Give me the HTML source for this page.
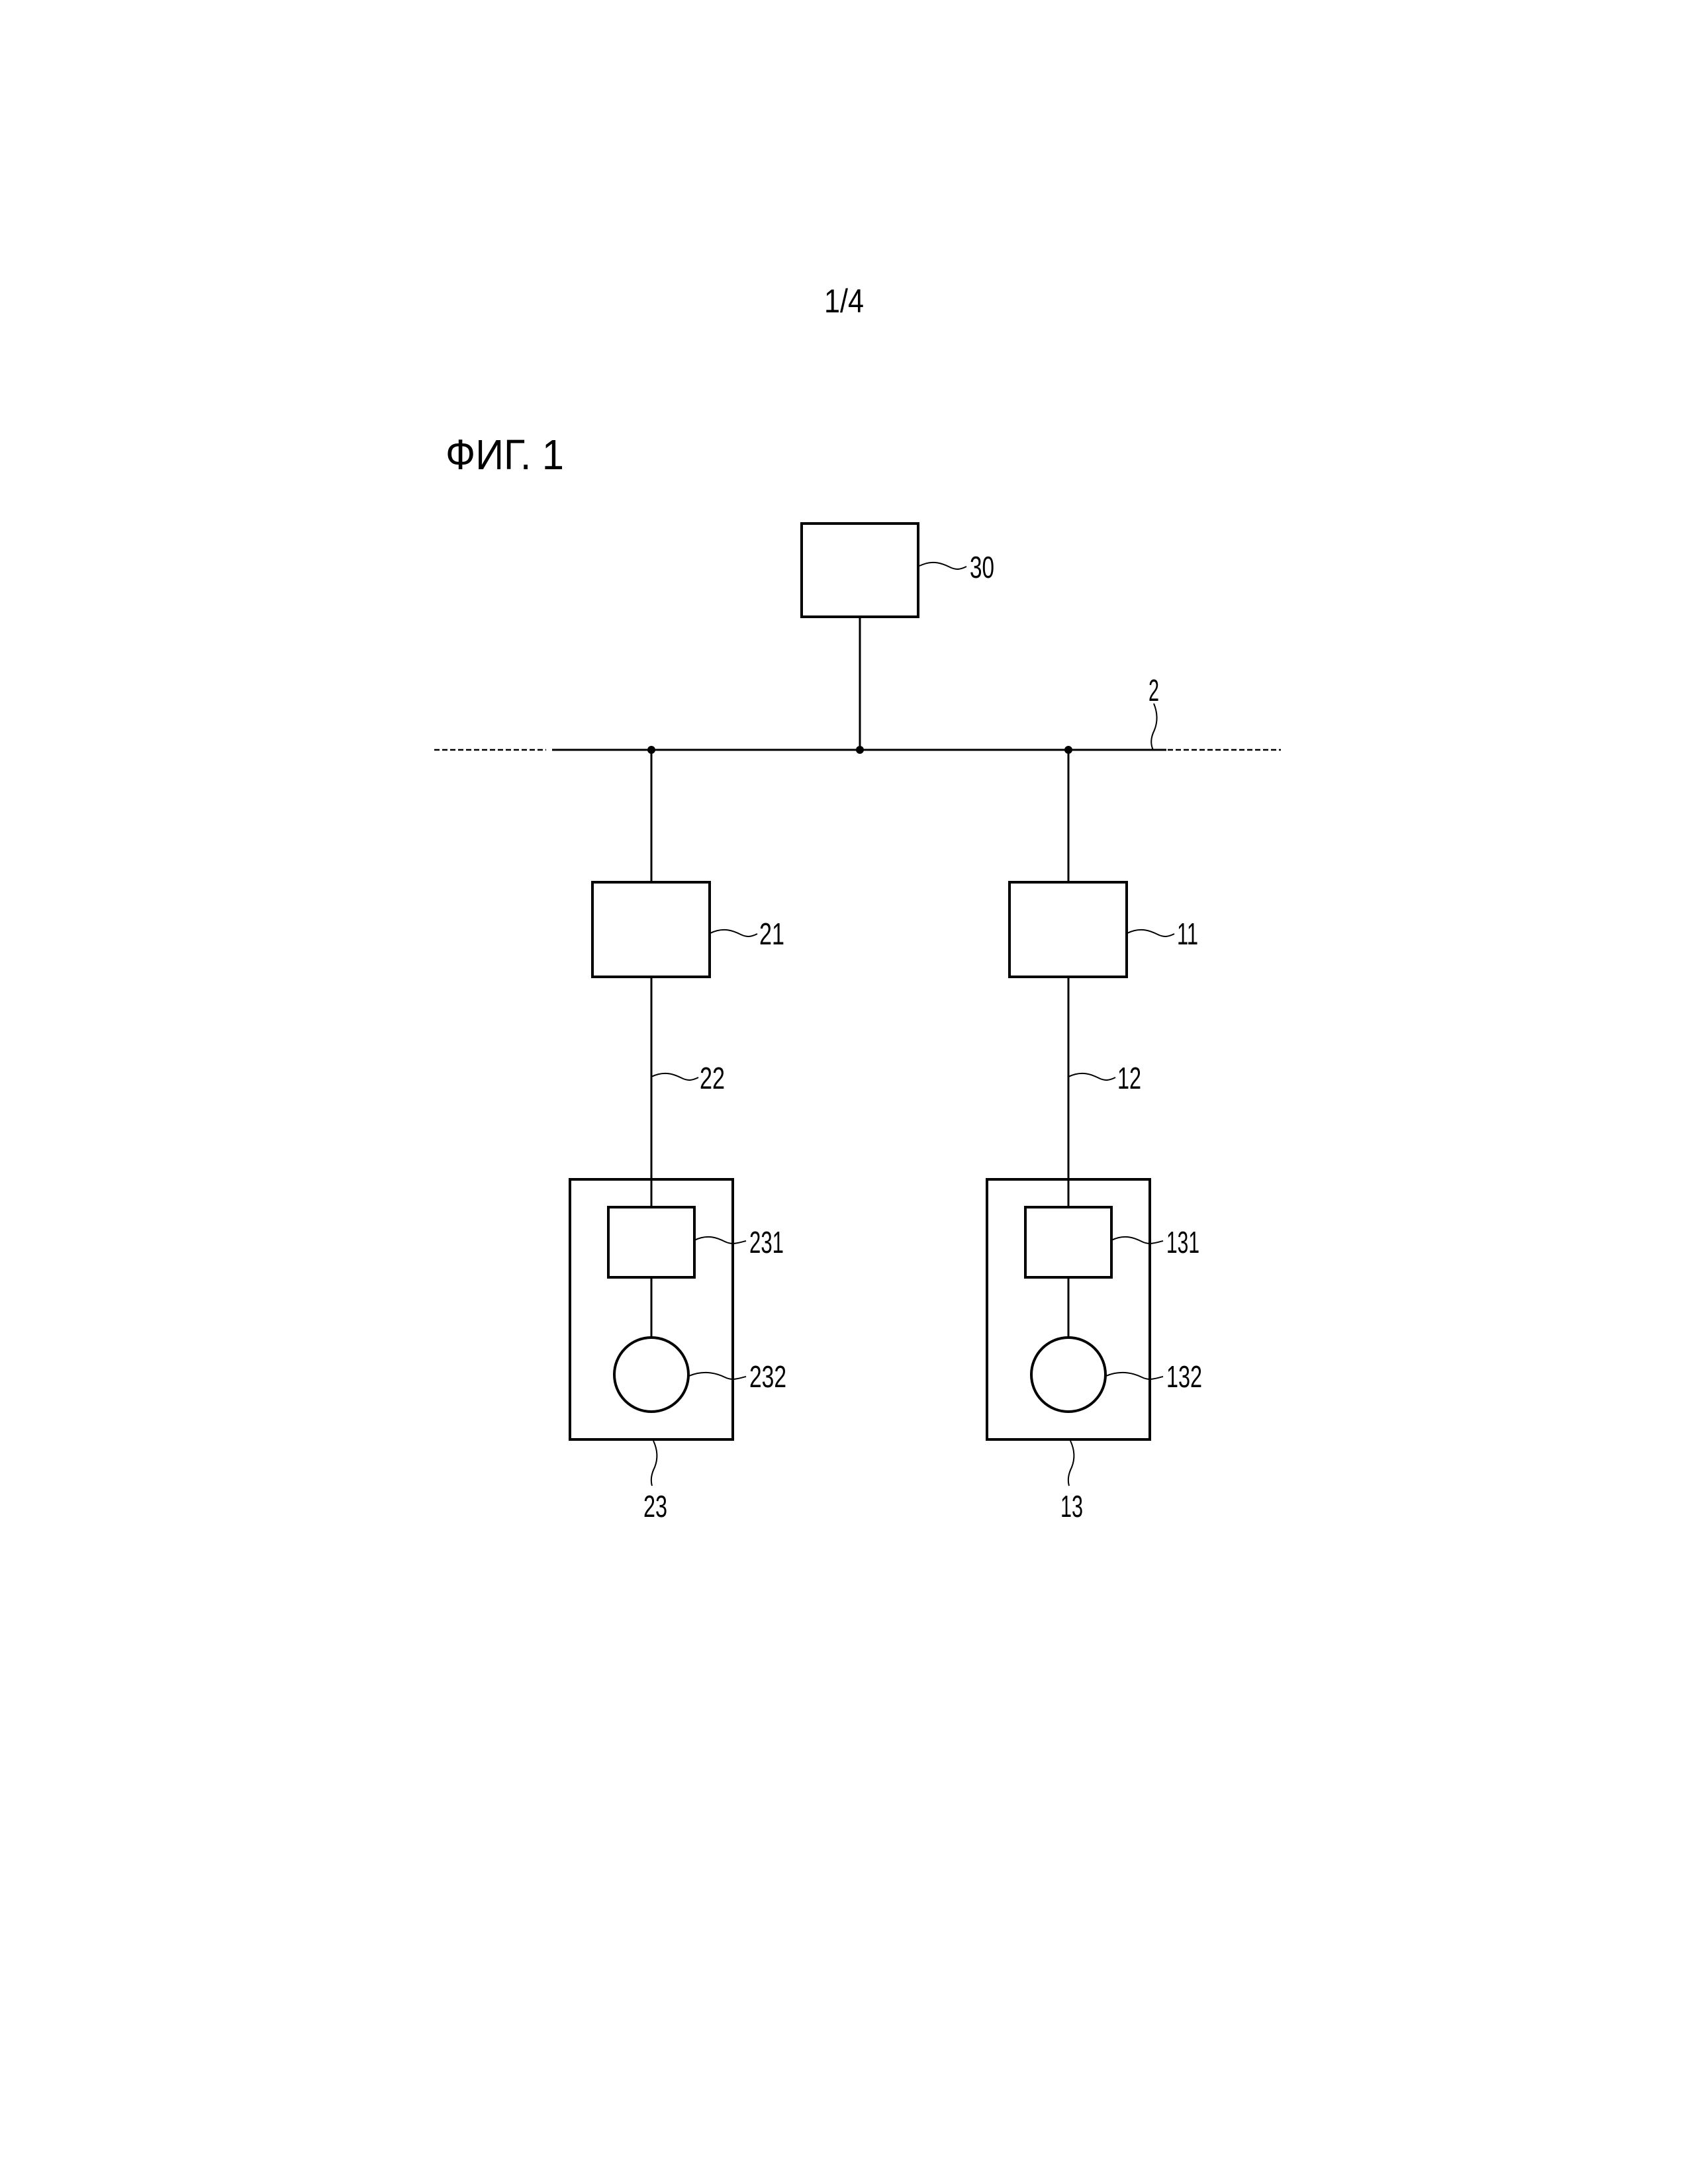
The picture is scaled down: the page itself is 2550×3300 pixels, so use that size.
<!DOCTYPE html>
<html><head><meta charset="utf-8"><style>
html,body{margin:0;padding:0;background:#fff;}
svg{display:block;}
text{font-family:"Liberation Sans",sans-serif;fill:#000;}
</style></head><body>
<svg width="2550" height="3300" viewBox="0 0 2550 3300" xmlns="http://www.w3.org/2000/svg">
<rect width="2550" height="3300" fill="#fff"/>
<text x="1245" y="472" font-size="50" textLength="60" lengthAdjust="spacingAndGlyphs">1/4</text>
<text x="673" y="709" font-size="64" textLength="179" lengthAdjust="spacingAndGlyphs">ФИГ. 1</text>

<g fill="none" stroke="#000">
<rect x="1211" y="791" width="176" height="141" stroke-width="4"/>
<line x1="1299" y1="932" x2="1299" y2="1133" stroke-width="3"/>
<line x1="656" y1="1133" x2="825" y2="1133" stroke-width="2.5" stroke-dasharray="8,4"/>
<line x1="834" y1="1133" x2="1762" y2="1133" stroke-width="3"/>
<line x1="1764" y1="1133" x2="1935" y2="1133" stroke-width="2.5" stroke-dasharray="8,4"/>
<!-- left column -->
<line x1="984" y1="1133" x2="984" y2="1332" stroke-width="3"/>
<rect x="895" y="1333" width="177" height="143" stroke-width="4"/>
<line x1="984" y1="1477" x2="984" y2="1824" stroke-width="3"/>
<rect x="861" y="1782" width="246" height="393" stroke-width="4"/>
<rect x="919" y="1824" width="130" height="106" stroke-width="4"/>
<line x1="984" y1="1930" x2="984" y2="2020" stroke-width="3"/>
<circle cx="984" cy="2077" r="56" stroke-width="4"/>
<!-- right column -->
<line x1="1614" y1="1133" x2="1614" y2="1332" stroke-width="3"/>
<rect x="1525" y="1333" width="177" height="143" stroke-width="4"/>
<line x1="1614" y1="1477" x2="1614" y2="1824" stroke-width="3"/>
<rect x="1491" y="1782" width="246" height="393" stroke-width="4"/>
<rect x="1549" y="1824" width="130" height="106" stroke-width="4"/>
<line x1="1614" y1="1930" x2="1614" y2="2020" stroke-width="3"/>
<circle cx="1614" cy="2077" r="56" stroke-width="4"/>

<g stroke-width="2">
<path d="M1389,855 C1410,845 1425,852 1435,857 C1445,862 1452,860 1460,856"/>
<path d="M1743,1063 C1750,1080 1748,1093 1744,1103 C1738,1115 1738,1125 1742,1133"/>
<path d="M1073,1410 C1094,1400 1109,1407 1119,1412 C1129,1417 1136,1415 1144,1411"/>
<path d="M1703,1410 C1724,1400 1739,1407 1749,1412 C1759,1417 1766,1415 1774,1411"/>
<path d="M984,1627 C1005,1617 1020,1624 1030,1629 C1040,1634 1047,1632 1055,1628"/>
<path d="M1614,1627 C1635,1617 1650,1624 1660,1629 C1670,1634 1677,1632 1685,1628"/>
<path d="M1049,1874 C1070,1864 1085,1871 1095,1876 C1105,1881 1112,1879 1127,1875"/>
<path d="M1679,1874 C1700,1864 1715,1871 1725,1876 C1735,1881 1742,1879 1757,1875"/>
<path d="M1041,2079 C1065,2069 1085,2076 1095,2081 C1105,2086 1112,2084 1127,2080"/>
<path d="M1671,2079 C1695,2069 1715,2076 1725,2081 C1735,2086 1742,2084 1757,2080"/>
<path d="M987,2177 C995,2194 993,2207 989,2217 C983,2229 983,2238 985,2245"/>
<path d="M1617,2177 C1625,2194 1623,2207 1619,2217 C1613,2229 1613,2238 1615,2245"/>
</g>
</g>
<g fill="#000">
<circle cx="984" cy="1133" r="6"/>
<circle cx="1299" cy="1133" r="6"/>
<circle cx="1614" cy="1133" r="6"/>
</g>

<g font-size="46">
<text x="1465" y="873" textLength="37" lengthAdjust="spacingAndGlyphs">30</text>
<text x="1735" y="1059" textLength="16" lengthAdjust="spacingAndGlyphs">2</text>
<text x="1147" y="1427" textLength="38" lengthAdjust="spacingAndGlyphs">21</text>
<text x="1778" y="1427" textLength="32" lengthAdjust="spacingAndGlyphs">11</text>
<text x="1057" y="1645" textLength="38" lengthAdjust="spacingAndGlyphs">22</text>
<text x="1688" y="1645" textLength="36" lengthAdjust="spacingAndGlyphs">12</text>
<text x="1132" y="1893" textLength="52" lengthAdjust="spacingAndGlyphs">231</text>
<text x="1762" y="1893" textLength="50" lengthAdjust="spacingAndGlyphs">131</text>
<text x="1132" y="2096" textLength="56" lengthAdjust="spacingAndGlyphs">232</text>
<text x="1762" y="2096" textLength="54" lengthAdjust="spacingAndGlyphs">132</text>
<text x="972" y="2292" textLength="36" lengthAdjust="spacingAndGlyphs">23</text>
<text x="1602" y="2292" textLength="34" lengthAdjust="spacingAndGlyphs">13</text>
</g>
</svg>
</body></html>
